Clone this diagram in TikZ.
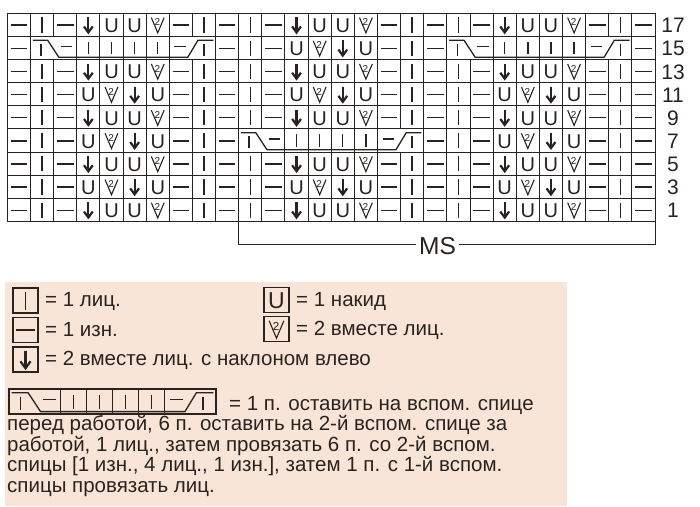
\documentclass[tikz,border=0pt]{standalone}
\usepackage{fontspec}
\setmainfont{Liberation Sans}
\usetikzlibrary{calc}
\definecolor{ink}{RGB}{40,35,33}
\definecolor{peach}{RGB}{248,229,215}
\newcommand\cw{23.13}
\newcommand\xo{7.4}
\newcommand\yo{13.3}
\newcommand\knitp{\draw[st] (-8.3,0.3) -- (8.3,0.3);}
\newcommand\knitk{\draw[st] (0,-7.4) -- (0,7.8);}
\newcommand\knitu{\node[glyph] at (0,0.9) {U};}
\newcommand\knita{\draw[arr] (0,-7.6) -- (0,6.5); \draw[arr,line join=miter] (-4.4,1.6) -- (0,7.6) -- (4.4,1.6);}
\newcommand\knitv{\draw[vst,line join=miter] (-6.4,-7.2) -- (0,8) -- (6.4,-7.2); \node[two] at (-0.4,-2.6) {2};}
\newcommand\knitc{}
\newcommand\chartcell[3]{\begin{scope}[shift={({\xo+(#1-0.5)*\cw},{\yo+(#2+0.5)*\cw})}]\csname knit#3\endcsname\end{scope}}
\newcommand\cabledraw[4]{\begin{scope}[shift={(#1,#2)}]
 \draw[st,line width=1.3pt,line join=round] ({0.1*#3},3.8) -- ({0.74*#3},3.8) -- ({1.22*#3},{#4-2.4}) -- ({6.8*#3},{#4-2.4}) -- ({7.24*#3},3.8) -- ({7.9*#3},3.8);
 \draw[st] ({0.45*#3},7.5) -- ({0.45*#3},{#4-4});
 \draw[st] ({1.3*#3},{0.43*#4}) -- ({1.8*#3},{0.43*#4});
 \foreach \k in {2,...,5} \draw[st] ({(\k+0.5)*#3},5.5) -- ({(\k+0.5)*#3},{#4-5.5});
 \draw[st] ({6.22*#3},{0.43*#4}) -- ({6.72*#3},{0.43*#4});
 \draw[st] ({7.5*#3},7.5) -- ({7.5*#3},{#4-4});
\end{scope}}
\begin{document}
\begin{tikzpicture}[x=1pt,y=-1pt,
  grid/.style={draw=ink,line width=1pt},
  st/.style={draw=ink,line width=1.4pt},
  arr/.style={draw=ink,line width=2.2pt},
  vst/.style={draw=ink,line width=1.1pt},
  glyph/.style={font=\fontsize{20}{20}\selectfont,text=ink,inner sep=0pt},
  two/.style={font=\fontsize{10}{10}\selectfont,text=ink,inner sep=0pt},
  num/.style={font=\fontsize{21}{21}\selectfont,text=ink,inner sep=0pt},
  lbox/.style={draw=ink,line width=1.4pt,minimum size=25pt,inner sep=0pt},
  ltext/.style={font=\fontsize{20.5}{20.5}\selectfont,text=ink,inner sep=0pt,anchor=base west},
  msl/.style={draw=ink,line width=1pt}]
\useasboundingbox (0,0) rectangle (700,506);
\fill[white] (0,0) rectangle (700,506);
% ---------- chart grid ----------
\foreach \r in {0,...,9} \draw[grid] (\xo,{\yo+\r*\cw}) -- ({\xo+28*\cw},{\yo+\r*\cw});
\foreach \i in {0,1,3,4,5,6,7,9,10,12,13,14,15,16,18,19,21,22,23,24,25,27,28}
  \draw[grid] ({\xo+\i*\cw},\yo) -- ({\xo+\i*\cw},{\yo+9*\cw});
\foreach \i in {2,8,20,26} {
  \draw[grid] ({\xo+\i*\cw},\yo) -- ({\xo+\i*\cw},{\yo+\cw});
  \draw[grid] ({\xo+\i*\cw},{\yo+2*\cw}) -- ({\xo+\i*\cw},{\yo+9*\cw});}
\foreach \i in {11,17} {
  \draw[grid] ({\xo+\i*\cw},\yo) -- ({\xo+\i*\cw},{\yo+5*\cw});
  \draw[grid] ({\xo+\i*\cw},{\yo+6*\cw}) -- ({\xo+\i*\cw},{\yo+9*\cw});}
% ---------- chart symbols ----------
\foreach \s [count=\c] in {p,k,p,a,u,u,v,p,k,p,k,p,a,u,u,v,p,k,p,k,p,a,u,u,v,p,k,p} {\chartcell{\c}{0}{\s}}
\foreach \s [count=\c] in {p,c,c,c,c,c,c,c,c,p,k,p,u,v,a,u,p,k,p,c,c,c,c,c,c,c,c,p} {\chartcell{\c}{1}{\s}}
\foreach \s [count=\c] in {p,k,p,a,u,u,v,p,k,p,k,p,a,u,u,v,p,k,p,k,p,a,u,u,v,p,k,p} {\chartcell{\c}{2}{\s}}
\foreach \s [count=\c] in {p,k,p,u,v,a,u,p,k,p,k,p,u,v,a,u,p,k,p,k,p,u,v,a,u,p,k,p} {\chartcell{\c}{3}{\s}}
\foreach \s [count=\c] in {p,k,p,a,u,u,v,p,k,p,k,p,a,u,u,v,p,k,p,k,p,a,u,u,v,p,k,p} {\chartcell{\c}{4}{\s}}
\foreach \s [count=\c] in {p,k,p,u,v,a,u,p,k,p,c,c,c,c,c,c,c,c,p,k,p,u,v,a,u,p,k,p} {\chartcell{\c}{5}{\s}}
\foreach \s [count=\c] in {p,k,p,a,u,u,v,p,k,p,k,p,a,u,u,v,p,k,p,k,p,a,u,u,v,p,k,p} {\chartcell{\c}{6}{\s}}
\foreach \s [count=\c] in {p,k,p,u,v,a,u,p,k,p,k,p,u,v,a,u,p,k,p,k,p,u,v,a,u,p,k,p} {\chartcell{\c}{7}{\s}}
\foreach \s [count=\c] in {p,k,p,a,u,u,v,p,k,p,k,p,a,u,u,v,p,k,p,k,p,a,u,u,v,p,k,p} {\chartcell{\c}{8}{\s}}
% cables
\cabledraw{\xo+1*\cw}{\yo+1*\cw}{\cw}{\cw}
\cabledraw{\xo+19*\cw}{\yo+1*\cw}{\cw}{\cw}
\cabledraw{\xo+10*\cw}{\yo+5*\cw}{\cw}{\cw}
% row numbers
\foreach \n [count=\r from 0] in {17,15,13,11,9,7,5,3,1}
  \node[num] (row\n) at (673,{\yo+(\r+0.5)*\cw+0.8}) {\n};
% MS bracket
\coordinate (msL) at ({\xo+10*\cw},{\yo+9*\cw});
\coordinate (msR) at ({\xo+28*\cw},{\yo+9*\cw});
\node[font=\fontsize{24.5}{24.5}\selectfont,text=ink,inner sep=2.5pt] (ms) at (437.5,246.5) {MS};
\draw[msl] (msL) |- ($(ms.west)+(0,-2.5)$);
\draw[msl] ($(ms.east)+(0,-2.5)$) -| (msR);
% ---------- legend ----------
\fill[peach] (5,282) rectangle (567,506);
\node[lbox] (bk) at (25.5,300.5) {};
\begin{scope}[shift={(bk.center)},scale=1.15]\draw[st,line width=1.9pt] (0,-7.8) -- (0,8);\end{scope}
\node[lbox] (bp) at (25.5,330) {};
\begin{scope}[shift={(bp.center)},scale=1.15]\draw[st,line width=1.7pt] (-8.6,0) -- (8.6,0);\end{scope}
\node[lbox] (ba) at (25.5,359.5) {};
\begin{scope}[shift={(ba.center)},scale=1.15]\knita\end{scope}
\node[lbox] (bu) at (276.5,300) {};
\begin{scope}[shift={(bu.center)},scale=1.15,every node/.append style={transform shape}]\knitu\end{scope}
\node[lbox] (bv) at (276.5,329) {};
\begin{scope}[shift={(bv.center)},scale=1.15,every node/.append style={transform shape}]\knitv\end{scope}
\node[ltext] (tk) at (45,306.5) {= 1 лиц.};
\node[ltext] (tp) at (45,336.5) {= 1 изн.};
\node[ltext] (ta) at (45,365.5) {= 2 вместе лиц. с наклоном влево};
\node[ltext] (tu) at (296,306.5) {= 1 накид};
\node[ltext] (tv) at (296,335.5) {= 2 вместе лиц.};
% legend cable
\draw[ink,line width=1.4pt] (9,389) rectangle (216,414);
\foreach \i in {2,...,6} \draw[grid] ({9+\i*25.875},389) -- ({9+\i*25.875},414);
\cabledraw{9}{389}{25.875}{25}
\node[ltext] (tc1) at (229,410) {= 1 п. оставить на вспом. спице};
\node[ltext,align=left,anchor=north west] (tc2) at (7,415.5) {перед работой, 6 п. оставить на 2-й вспом. спице за\\работой, 1 лиц., затем провязать 6 п. со 2-й вспом.\\спицы [1 изн., 4 лиц., 1 изн.], затем 1 п. с 1-й вспом.\\спицы провязать лиц.};
\end{tikzpicture}
\end{document}
